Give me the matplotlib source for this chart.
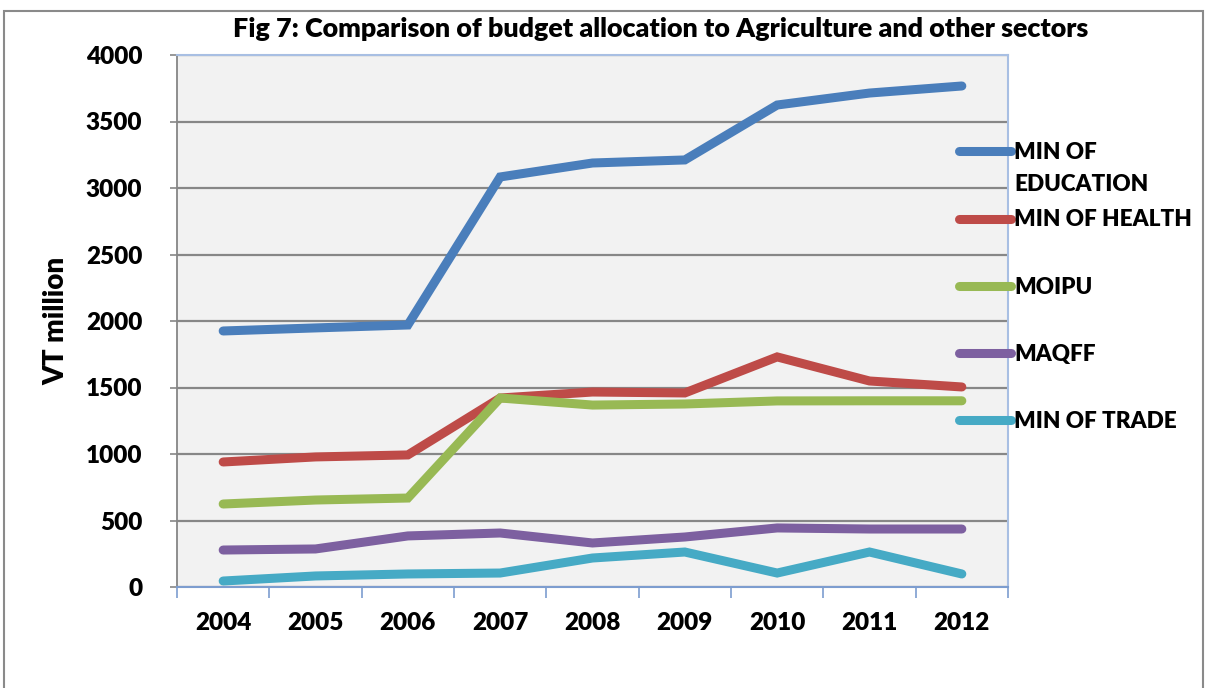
import matplotlib
matplotlib.use("Agg")
import matplotlib.pyplot as plt
from matplotlib.patches import Rectangle
from matplotlib.text import Annotation

years = ["2004", "2005", "2006", "2007", "2008", "2009", "2010", "2011", "2012"]
education = [1925, 1948, 1970, 3083, 3188, 3211, 3624, 3714, 3767]
health = [940, 978, 993, 1421, 1466, 1459, 1730, 1549, 1504]
moipu = [624, 654, 669, 1421, 1368, 1376, 1399, 1400, 1400]
maqff = [278, 286, 384, 406, 331, 376, 444, 436, 436]
trade = [45, 83, 98, 105, 218, 263, 105, 263, 98]

labels = ["MIN OF\nEDUCATION", "MIN OF HEALTH", "MOIPU", "MAQFF", "MIN OF TRADE"]
colors = ["#4a7ebb", "#be4b48", "#98b954", "#7d60a0", "#46aac5"]
series = [education, health, moipu, maqff, trade]
yticks = [0, 500, 1000, 1500, 2000, 2500, 3000, 3500, 4000]

plt.rcParams['font.family'] = ['Lato', 'DejaVu Sans']
W = 'heavy'

fig = plt.figure(figsize=(12.05, 6.88), dpi=100)
ax = fig.add_axes([177/1205, 1-587/688, (1008-177)/1205, (587-55)/688])
ax.set_facecolor("#f2f2f2")

x = list(range(len(years)))
handles = []
for s, c, l in zip(series, colors, labels):
    ln, = ax.plot(x, s, color=c, lw=6.5, solid_capstyle='round', solid_joinstyle='miter', label=l, zorder=3)
    handles.append(ln)

ax.set_xlim(-0.5, len(years) - 0.5)
ax.set_ylim(0, 4000)
ax.set_yticks(yticks)
ax.set_yticklabels([str(v) for v in yticks], fontsize=17.5, fontweight=W)
ax.set_xticks(x)
ax.set_xticklabels(years, fontsize=17.5, fontweight=W)
ax.set_xticks([i - 0.5 for i in range(len(years) + 1)], minor=True)
ax.tick_params(axis='x', which='major', length=0, pad=18)
ax.tick_params(axis='x', which='minor', length=8, width=1.2, color='#7d9dcf', direction='out')
ax.tick_params(axis='y', which='major', length=5, width=1.2, color='#868686', pad=20)

ax.yaxis.grid(True, color='#878787', lw=1.6, zorder=1)
ax.set_axisbelow(True)
ax.spines['left'].set_color('#868686')
ax.spines['left'].set_linewidth(1.3)
ax.spines['bottom'].set_color('#7d9dcf')
ax.spines['bottom'].set_linewidth(1.5)
ax.spines['top'].set_color('#a8bfe3')
ax.spines['right'].set_color('#a8bfe3')
ax.spines['top'].set_linewidth(1.5)
ax.spines['right'].set_linewidth(1.5)

ax.set_ylabel("VT million", fontsize=20, fontweight=W, labelpad=12)

fig.text(0.5485, 0.958, "Fig 7: Comparison of budget allocation to Agriculture and other sectors",
         ha='center', va='center', fontsize=19.4, fontweight=W)

# Legend: the first label's second line is drawn just below the first line,
# so that all entries keep the even spacing of the reference legend.
first_lines = [l.split("\n")[0] for l in labels]
leg = fig.legend(handles=handles, labels=first_lines, loc='upper left',
                 bbox_to_anchor=(939/1205, 1-122/688), frameon=False,
                 prop={'size': 16.2, 'weight': W, 'family': ['Lato', 'DejaVu Sans']},
                 handlelength=2.3, handletextpad=0.15, labelspacing=2.05)
extra = labels[0].split("\n")[1]
ann = Annotation(extra, xy=(0, 0), xycoords=leg.get_texts()[0], xytext=(0, -7.5),
                 textcoords='offset points', ha='left', va='top',
                 fontsize=16.2, fontweight=W)
ann.set_zorder(20)
fig.add_artist(ann)

fig.add_artist(Rectangle((0.003, -0.01), 0.995, 1.004 - 0.01 + 0.0, transform=fig.transFigure,
                         fill=False, edgecolor='#8a8a8a', lw=1.5))

fig.savefig("out.png", dpi=100)
